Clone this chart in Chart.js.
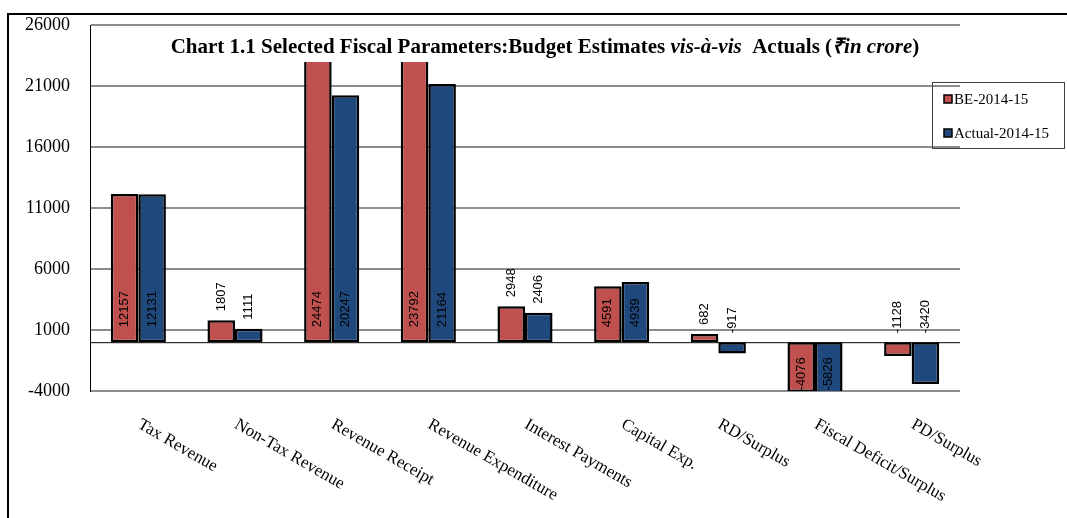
<!DOCTYPE html>
<html>
<head>
<meta charset="utf-8">
<script src="https://cdn.jsdelivr.net/npm/chart.js@4"></script>
<style>
  body { margin: 0; background: #fff; }
  #wrap { position: relative; width: 1067px; height: 518px; overflow: hidden; }
  #frame { position: absolute; left: 7px; top: 13px; width: 1100px; height: 600px;
           border-top: 2px solid #000; border-left: 2px solid #000; }
  #grafico { position: absolute; left: 0; top: 0; }
</style>
</head>
<body>
<div id="wrap">
  <div id="frame"></div>
  <canvas id="grafico" width="1067" height="518"></canvas>
</div>
<script>
// Dados do gráfico
const categorias = ['Tax Revenue', 'Non-Tax Revenue', 'Revenue Receipt', 'Revenue Expenditure',
  'Interest Payments', 'Capital Exp.', 'RD/Surplus', 'Fiscal Deficit/Surplus', 'PD/Surplus'];
const valoresBE = [12157, 1807, 24474, 23792, 2948, 4591, 682, -4076, -1128];
const valoresActual = [12131, 1111, 20247, 21164, 2406, 4939, -917, -5826, -3420];
const nomesSeries = ['BE-2014-15', 'Actual-2014-15'];
const ticksY = [-4000, 1000, 6000, 11000, 16000, 21000, 26000];

const corBE = '#C0504D';
const corActual = '#1F497D';
const serif = '"Liberation Serif", "Times New Roman", serif';

// rótulos de valor (rotacionados)
const rotulosPlugin = {
  id: 'rotulos',
  afterDatasetsDraw(chart) {
    const ctx = chart.ctx;
    const y = chart.scales.y;
    const area = chart.chartArea;
    const zero = y.getPixelForValue(0);

    // linha do zero
    ctx.save();
    ctx.strokeStyle = '#000';
    ctx.lineWidth = 1;
    ctx.beginPath();
    ctx.moveTo(area.left, zero + 0.5);
    ctx.lineTo(area.right, zero + 0.5);
    ctx.stroke();
    ctx.restore();

    chart.data.datasets.forEach((ds, di) => {
      const meta = chart.getDatasetMeta(di);
      meta.data.forEach((el, i) => {
        const v = ds.data[i];
        const h = Math.abs(y.getPixelForValue(v) - zero);
        ctx.save();
        ctx.font = '13px "Liberation Sans", Arial, sans-serif';
        ctx.fillStyle = '#000';
        ctx.textBaseline = 'middle';
        if (h > 48) {
          if (v >= 0) {
            ctx.translate(el.x, zero - 15);
            ctx.textAlign = 'left';
          } else {
            ctx.translate(el.x, zero + 15);
            ctx.textAlign = 'right';
          }
        } else {
          ctx.translate(el.x, Math.min(el.y, zero) - 9);
          ctx.textAlign = 'left';
        }
        ctx.rotate(-Math.PI / 2);
        ctx.fillText(String(v), 0, 0);
        ctx.restore();
      });
    });

    // título com fundo branco
    const partes = [
      ['Chart 1.1 Selected Fiscal Parameters:Budget Estimates ', false],
      ['vis-à-vis', true],
      ['  Actuals (', false],
      ['₹in crore', true],
      [')', false]
    ];
    const fonteTitulo = 'bold 21px ' + serif;
    ctx.save();
    let total = 0;
    partes.forEach(p => {
      ctx.font = (p[1] ? 'italic ' : '') + fonteTitulo;
      total += ctx.measureText(p[0]).width;
    });
    const cx = 545;
    let x = cx - total / 2;
    ctx.fillStyle = '#fff';
    ctx.fillRect(x - 12, area.top + 2, total + 24, 35);
    ctx.fillStyle = '#000';
    ctx.textBaseline = 'alphabetic';
    ctx.textAlign = 'left';
    partes.forEach(p => {
      ctx.font = (p[1] ? 'italic ' : '') + fonteTitulo;
      ctx.fillText(p[0], x, 53);
      x += ctx.measureText(p[0]).width;
    });
    ctx.restore();
  },
  afterDraw(chart) {
    const ctx = chart.ctx;
    const xs = chart.scales.x;
    const area = chart.chartArea;

    // rótulos do eixo x inclinados
    ctx.save();
    ctx.font = '17px ' + serif;
    ctx.fillStyle = '#000';
    ctx.textAlign = 'left';
    ctx.textBaseline = 'top';
    categorias.forEach((c, i) => {
      ctx.save();
      ctx.translate(xs.getPixelForValue(i) + 5, area.bottom + 25);
      ctx.rotate(30 * Math.PI / 180);
      ctx.fillText(c, 0, 0);
      ctx.restore();
    });
    ctx.restore();

    // legenda
    ctx.save();
    ctx.strokeStyle = '#404040';
    ctx.lineWidth = 1;
    ctx.strokeRect(932.5, 82.5, 132, 66);
    ctx.font = '15px ' + serif;
    ctx.textBaseline = 'middle';
    ctx.textAlign = 'left';
    const cores = [corBE, corActual];
    nomesSeries.forEach((n, i) => {
      const yy = 99 + i * 34;
      ctx.fillStyle = cores[i];
      ctx.fillRect(944, yy - 4, 8, 8);
      ctx.strokeStyle = '#000';
      ctx.lineWidth = 1.5;
      ctx.strokeRect(944, yy - 4, 8, 8);
      ctx.fillStyle = '#000';
      ctx.fillText(n, 954, yy + 1);
    });
    ctx.restore();
  }
};

new Chart(document.getElementById('grafico').getContext('2d'), {
  type: 'bar',
  data: {
    labels: categorias,
    datasets: [
      { label: nomesSeries[0], data: valoresBE, backgroundColor: corBE,
        borderColor: '#000', borderWidth: 2.5, borderSkipped: false },
      { label: nomesSeries[1], data: valoresActual, backgroundColor: corActual,
        borderColor: '#000', borderWidth: 2.5, borderSkipped: false }
    ]
  },
  options: {
    responsive: false,
    animation: false,
    layout: { padding: { top: 25, right: 107, bottom: 127, left: 0 } },
    datasets: { bar: { categoryPercentage: 0.57, barPercentage: 1.0 } },
    plugins: { legend: { display: false }, tooltip: { enabled: false }, title: { display: false } },
    scales: {
      x: { display: false },
      y: {
        min: -4000, max: 26000,
        afterBuildTicks: s => { s.ticks = ticksY.map(v => ({ value: v })); },
        afterFit: s => { s.width = 90; s.paddingTop = 0; s.paddingBottom = 0; },
        border: { display: true, color: '#000', width: 1 },
        grid: { color: '#8c8c8c', lineWidth: 2, drawTicks: false },
        ticks: { color: '#000', padding: 20, font: { family: serif, size: 18 },
                 callback: v => String(v) }
      }
    }
  },
  plugins: [rotulosPlugin]
});
</script>
</body>
</html>
